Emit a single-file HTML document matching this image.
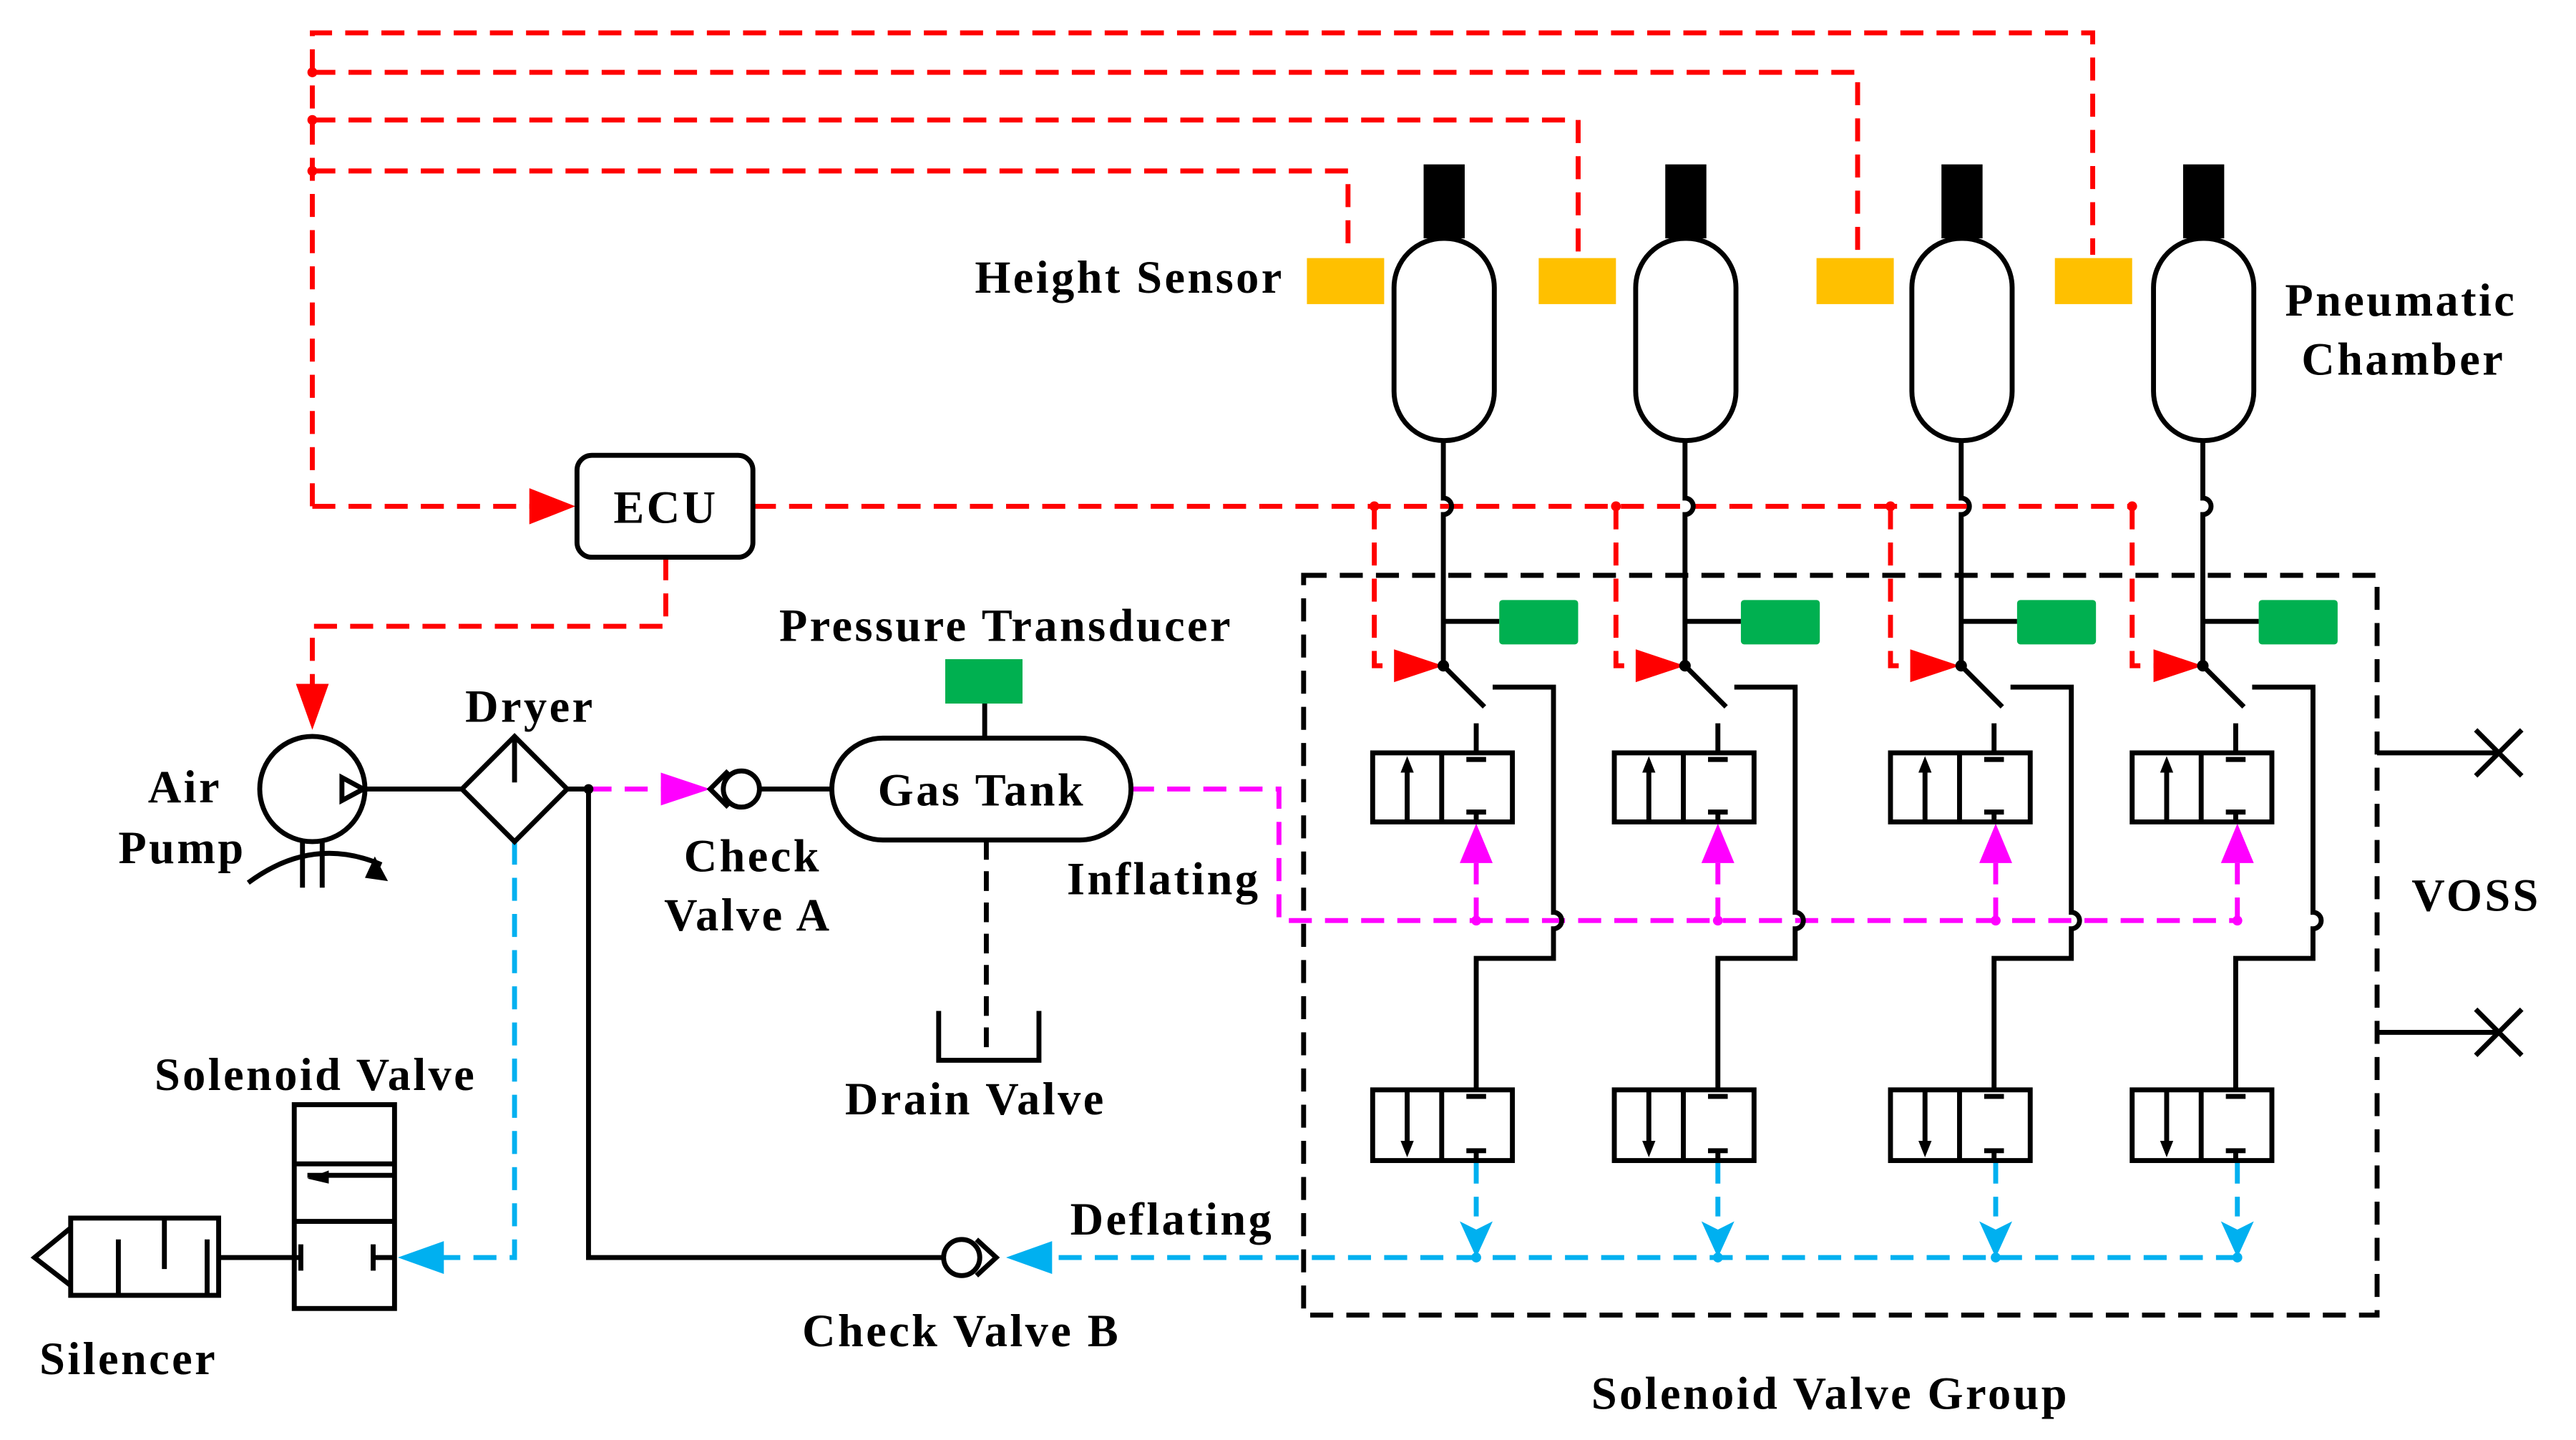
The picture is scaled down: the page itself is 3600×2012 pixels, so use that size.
<!DOCTYPE html>
<html><head><meta charset="utf-8"><style>html,body{margin:0;padding:0;background:#fff}svg{display:block}text{font-family:"Liberation Serif",serif;font-weight:bold;font-size:28px;letter-spacing:1.5px;fill:#000}</style></head><body>
<svg width="3600" height="2012" viewBox="0 0 1567 876" preserveAspectRatio="none" xmlns="http://www.w3.org/2000/svg">
<g fill="none" stroke-width="3">
<g stroke="#f00" stroke-dasharray="14,8">
<path d="M190,308V20H1273V155"/>
<path d="M190,44H1130V155"/>
<path d="M190,73H960V155"/>
<path d="M190,104H820V155"/>
<path d="M190,308H330"/>
<path d="M458,308H1297"/>
<path d="M405,339V381H190V420"/>
<path d="M836,308V405H850M983,308V405H997M1150,308V405H1164M1297,308V405H1311"/>
</g>
</g>
<g fill="#f00">
<circle cx="190" cy="44" r="3"/><circle cx="190" cy="73" r="3"/><circle cx="190" cy="104" r="3"/>
<circle cx="836" cy="308" r="3"/><circle cx="983" cy="308" r="3"/><circle cx="1150" cy="308" r="3"/><circle cx="1297" cy="308" r="3"/>
<path d="M322,297L350,308L322,319z"/>
<path d="M180,416L190,444L200,416z"/>
<path d="M848,395L878,405L848,415z"/><path d="M995,395L1025,405L995,415z"/><path d="M1162,395L1192,405L1162,415z"/><path d="M1310,395L1340,405L1310,415z"/>
</g>
<g fill="#ffc000"><rect x="795" y="157" width="47" height="28"/><rect x="936" y="157" width="47" height="28"/><rect x="1105" y="157" width="47" height="28"/><rect x="1250" y="157" width="47" height="28"/></g>
<rect x="351" y="277" width="107" height="62" rx="9" fill="#fff" stroke="#000" stroke-width="3"/>
<text x="405" y="318" text-anchor="middle">ECU</text>
<g stroke="#f0f" stroke-width="3" fill="none" stroke-dasharray="14,8">
<path d="M358,480H410"/>
<path d="M688,480H778V560H1362"/>
<path d="M898,560V525M1045,560V525M1214,560V525M1361,560V525"/>
</g>
<g fill="#f0f">
<path d="M402,470L432,480L402,490z"/>
<path d="M888,525L898,501L908,525z"/><path d="M1035,525L1045,501L1055,525z"/><path d="M1204,525L1214,501L1224,525z"/><path d="M1351,525L1361,501L1371,525z"/>
<circle cx="898" cy="560" r="3"/><circle cx="1045" cy="560" r="3"/><circle cx="1214" cy="560" r="3"/><circle cx="1361" cy="560" r="3"/>
</g>
<g stroke="#00b0f0" stroke-width="3" fill="none" stroke-dasharray="14,8">
<path d="M313,512V765H262"/>
<path d="M1362,765H630"/>
<path d="M898,706V740M1045,706V740M1214,706V740M1361,706V740"/>
</g>
<g fill="#00b0f0">
<path d="M270,755L242,765L270,775z"/>
<path d="M640,755L612,765L640,775z"/>
<path d="M888,743L898,765L908,743L898,748z"/><path d="M1035,743L1045,765L1055,743L1045,748z"/><path d="M1204,743L1214,765L1224,743L1214,748z"/><path d="M1351,743L1361,765L1371,743L1361,748z"/>
<circle cx="898" cy="765" r="3"/><circle cx="1045" cy="765" r="3"/><circle cx="1214" cy="765" r="3"/><circle cx="1361" cy="765" r="3"/>
</g>
<rect x="793" y="350" width="653" height="450" fill="none" stroke="#000" stroke-width="3" stroke-dasharray="14,8"/>
<g stroke="#000" stroke-width="3" fill="none">
<circle cx="190" cy="480" r="32"/>
<path d="M208,473L221,480L208,487z"/>
<path d="M222,480H282"/>
<path d="M184,512V540M196,512V540"/>
<path d="M151,537Q190,508 232,526"/>
<path d="M313,448L345,480L313,512L281,480z"/>
<path d="M313,450V476"/>
<path d="M345,480H358V765H573"/>
<circle cx="451" cy="480" r="11"/>
<path d="M443,469L432,480L443,491M462,480H506"/>
<rect x="506" y="449" width="182" height="62" rx="31"/>
<path d="M599,428V449"/>
<path d="M600,511V645" stroke-dasharray="12,7"/>
<path d="M571,615V645H632V615"/>
<circle cx="585" cy="765" r="11"/>
<path d="M594,754L606,765L594,776"/>
<rect x="179" y="672" width="61" height="124"/>
<path d="M179,708H240M179,743H240M187,715H240"/>
<path d="M133,765H183M183,757V773M227,757V773M227,765H240"/>
<rect x="43" y="741" width="90" height="47"/>
<path d="M43,747L21,765L43,782"/>
<path d="M72,788V754M100,741V772M126,788V754"/>
<path d="M1446,458H1520M1506,444L1534,472M1534,444L1506,472"/>
<path d="M1446,628H1520M1506,614L1534,642M1534,614L1506,642"/>
</g>
<path d="M222,534L236,536L228,521z" fill="#000"/>
<path d="M187,717L200,712L200,720z" fill="#000"/>
<circle cx="358" cy="480" r="3" fill="#000"/>
<rect x="575" y="401" width="47" height="27" fill="#00b050"/>
<g id="c">
<rect x="866" y="100" width="25" height="45" fill="#000"/>
<rect x="848" y="145" width="61" height="123" rx="30" fill="#fff" stroke="#000" stroke-width="3"/>
<g stroke="#000" stroke-width="3" fill="none">
<path d="M878,268V303A5,5 0 0 1 878,313V405L903,430"/>
<path d="M878,378H912"/>
<path d="M908,418H945V555A5,5 0 0 1 945,565V583H898V663"/>
<path d="M898,440V458"/>
<rect x="835" y="458" width="85" height="42"/>
<path d="M877,458V500M856,500V468M892,462H904M892,494H904M898,494V500"/>
<rect x="835" y="663" width="85" height="43"/>
<path d="M877,663V706M856,663V696M892,667H904M892,700H904M898,700V706"/>
</g>
<path d="M852,470L856,460L860,470z" fill="#000"/>
<path d="M852,694L856,704L860,694z" fill="#000"/>
<circle cx="878" cy="405" r="3.5" fill="#000"/>
<rect x="912" y="365" width="48" height="27" rx="2" fill="#00b050"/>
</g>
<use href="#c" x="147"/>
<use href="#c" x="315"/>
<use href="#c" x="462"/>
<text x="593" y="178">Height Sensor</text>
<text x="1390" y="192">Pneumatic</text>
<text x="1400" y="228">Chamber</text>
<text x="474" y="390">Pressure Transducer</text>
<text x="283" y="439">Dryer</text>
<text x="90" y="488">Air</text>
<text x="72" y="525">Pump</text>
<text x="534" y="490">Gas Tank</text>
<text x="416" y="530">Check</text>
<text x="404" y="566">Valve A</text>
<text x="649" y="544">Inflating</text>
<text x="1467" y="554">VOSS</text>
<text x="94" y="663">Solenoid Valve</text>
<text x="514" y="678">Drain Valve</text>
<text x="651" y="751">Deflating</text>
<text x="488" y="819">Check Valve B</text>
<text x="24" y="836">Silencer</text>
<text x="968" y="857">Solenoid Valve Group</text>
</svg>
</body></html>
